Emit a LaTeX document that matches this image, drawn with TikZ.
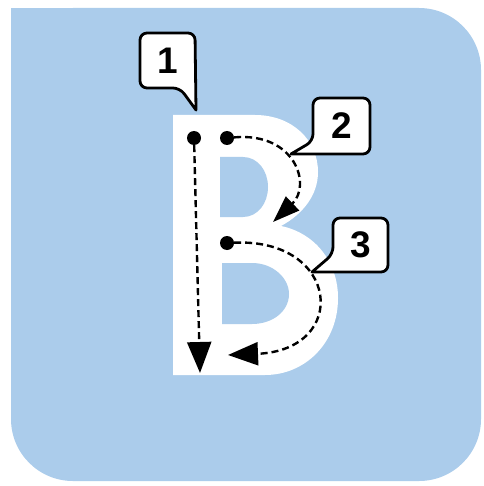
\documentclass[tikz,border=0pt]{standalone}
\usepackage{fontspec}
\setmainfont{Liberation Sans}
\usepackage{xcolor}
\usetikzlibrary{arrows.meta, calc}
\definecolor{bgblue}{RGB}{171,204,235}

\begin{document}
\begin{tikzpicture}[x=1pt, y=-1pt,
  every node/.style={font=\fontsize{37}{37}\selectfont\bfseries},
  dot/.style={circle, fill=black, inner sep=0pt, minimum size=14pt},
  trace/.style={line width=2.4pt, dash pattern=on 7pt off 4pt},
  bubble/.style={draw=black, fill=white, line width=2.8pt, line join=round},
  digit/.style={inner sep=0pt, text=black}]
  \useasboundingbox (0,0) rectangle (483,486);
  \fill[bgblue, rounded corners=62pt] (11,8) rectangle (481,481);
  \fill[bgblue] (11,8) rectangle (100,100);
  % letter B
  \fill[white] (173,115) -- (255,115) .. controls (292,115) and (318,140) .. (318,172)
    .. controls (318,195) and (303,214) .. (281,226)
    .. controls (315,233) and (338,262) .. (338,298)
    .. controls (338,343) and (305,375) .. (265,375) -- (173,375) -- cycle;
  \fill[bgblue] (220,157) -- (243,157) .. controls (258,157) and (268,171) .. (268,187)
    .. controls (268,203) and (258,217) .. (243,217) -- (220,217) -- cycle;
  \fill[bgblue] (222,263) -- (252,263) .. controls (273,263) and (289,278) .. (289,294)
    .. controls (289,311) and (273,324) .. (252,324) -- (222,324) -- cycle;
  % stroke order
  \node[dot] (s1) at (194,138) {};
  \node[dot] (s2) at (227,138) {};
  \node[dot] (s3) at (227,243) {};
  \coordinate (e1) at (200,373);
  \coordinate (e2) at (273,222);
  \coordinate (e3) at (228,355);
  \draw[trace, -{Triangle[length=31pt, width=24pt]}] (s1) -- (e1);
  \draw[trace, -{Triangle[length=27pt, width=19pt]}] (s2) .. controls (295,132) and (312,185) .. (e2);
  \draw[trace, -{Triangle[length=30pt, width=23pt]}] (s3) .. controls (340,238) and (350,350) .. (e3);
  % callouts
  \draw[bubble] (196,110) [rounded corners=7pt] -- (195,33) -- (140,33) -- (140,88) -- (180,88) [sharp corners] -- cycle;
  \node[digit] (n1) at (167.5,60.5) {1};
  \draw[bubble] (291,154) [rounded corners=7pt] -- (370,154) -- (370,98) -- (313,98) -- (313,141) [sharp corners] -- cycle;
  \node[digit] (n2) at (341.5,126) {2};
  \draw[bubble] (312,272) [rounded corners=7pt] -- (388,272) -- (388,218) -- (333,218) -- (333,254) [sharp corners] -- cycle;
  \node[digit] (n3) at (360.5,245) {3};
\end{tikzpicture}
\end{document}
